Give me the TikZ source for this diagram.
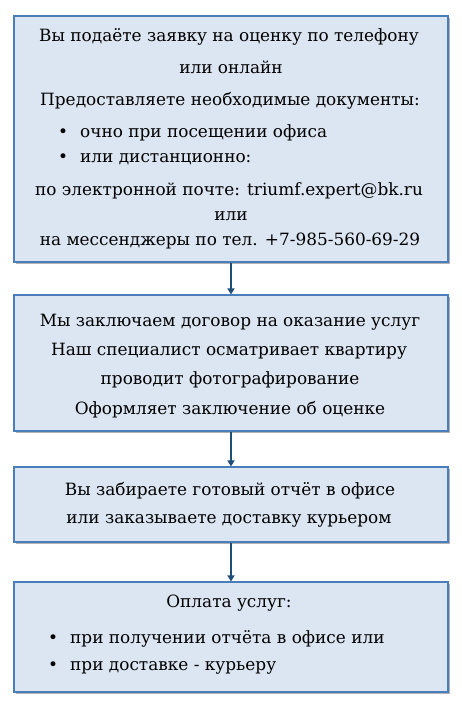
\documentclass[tikz,border=0pt]{standalone}
\usepackage{fontspec}
\setmainfont{DejaVu Serif}
\usetikzlibrary{shadows,arrows.meta}
\definecolor{boxfill}{HTML}{DCE6F2}
\definecolor{boxdraw}{HTML}{4A7EBB}
\definecolor{arrowcol}{HTML}{1F4E79}
\tikzset{
  stepbox/.style={draw=boxdraw, line width=1.1pt, fill=boxfill,
    drop shadow={shadow xshift=2pt, shadow yshift=-2pt, fill=black, opacity=0.3}},
  txt/.style={anchor=base, inner sep=0pt, font=\fontsize{16.9}{20}\selectfont},
  ltxt/.style={anchor=base west, inner sep=0pt, font=\fontsize{16.9}{20}\selectfont},
  flow/.style={draw=arrowcol, line width=1.4pt, -{Triangle[length=6pt,width=7pt]}}
}
\newcommand{\bul}{\makebox[22pt][l]{\textbullet}}
\begin{document}
\begin{tikzpicture}[x=1pt,y=-1pt]
\useasboundingbox (0,0) rectangle (461,711);
% boxes
\node[stepbox, minimum width=434pt, minimum height=246pt, inner sep=0pt] (b1) at (231,139) {};
\node[stepbox, minimum width=434pt, minimum height=136pt, inner sep=0pt] (b2) at (231,363) {};
\node[stepbox, minimum width=434pt, minimum height=75pt, inner sep=0pt] (b3) at (231,504.5) {};
\node[stepbox, minimum width=434pt, minimum height=110pt, inner sep=0pt] (b4) at (231,637) {};
% arrows
\draw[flow] (b1.south) -- (b2.north);
\draw[flow] (b2.south) -- (b3.north);
\draw[flow] (b3.south) -- (b4.north);
% box 1 text
\node[txt] (t11) at (229,42) {Вы подаёте заявку на оценку по телефону};
\node[txt] (t12) at (231,74) {или онлайн};
\node[txt] (t13) at (230,106) {Предоставляете необходимые документы:};
\node[ltxt] (t14) at (58,138) {\bul очно при посещении офиса};
\node[ltxt] (t15) at (58,163) {\bul или дистанционно:};
\node[txt] (t16) at (229,196) {по электронной почте: triumf.expert@bk.ru};
\node[txt] (t17) at (231,220) {или};
\node[txt] (t18) at (230,245) {на мессенджеры по тел. +7-985-560-69-29};
% box 2 text
\node[txt] (t21) at (230,326) {Мы заключаем договор на оказание услуг};
\node[txt] (t22) at (229,355) {Наш специалист осматривает квартиру};
\node[txt] (t23) at (230,384) {проводит фотографирование};
\node[txt] (t24) at (230,414) {Оформляет заключение об оценке};
% box 3 text
\node[txt] (t31) at (230,495) {Вы забираете готовый отчёт в офисе};
\node[txt] (t32) at (229,523) {или заказываете доставку курьером};
% box 4 text
\node[txt] (t41) at (229,607) {Оплата услуг:};
\node[ltxt] (t42) at (48,643) {\bul при получении отчёта в офисе или};
\node[ltxt] (t43) at (48,670) {\bul при доставке - курьеру};
\end{tikzpicture}
\end{document}
